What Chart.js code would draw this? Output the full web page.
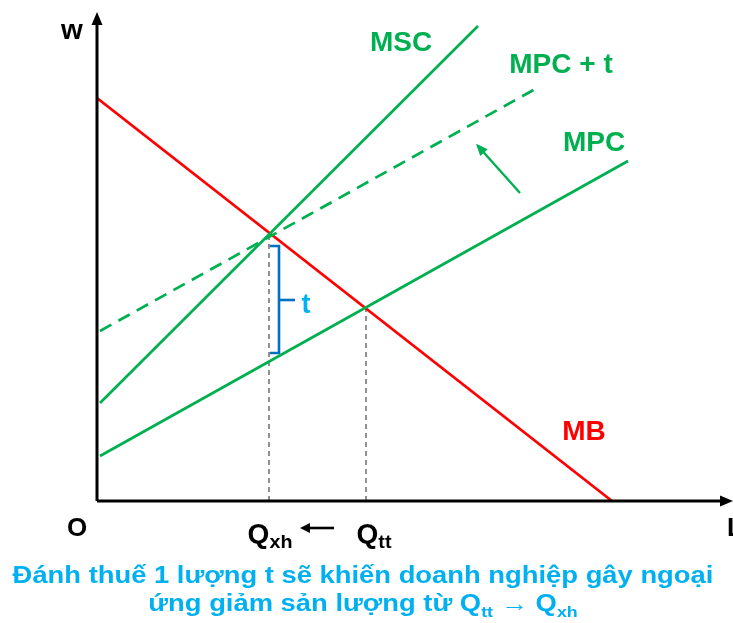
<!DOCTYPE html>
<html>
<head>
<meta charset="utf-8">
<script src="https://cdn.jsdelivr.net/npm/chart.js@4/dist/chart.umd.min.js"></script>
<style>
  html, body { margin: 0; padding: 0; background: #ffffff; }
  #wrap { width: 733px; height: 623px; position: relative; }
</style>
</head>
<body>
<div id="wrap"><canvas id="chart"></canvas></div>
<script>
// Quantity (L) and wage (w) in diagram units
const mbX = [0, 515];          // marginal benefit
const mbY = [403, 0];
const mpcX = [3, 531];         // marginal private cost
const mpcY = [45, 340];
const mpcTaxX = [3, 440];      // MPC shifted up by the tax t
const mpcTaxY = [170, 413];
const mscX = [3, 381];         // marginal social cost
const mscY = [98, 475];
const qLabels = ['Qxh', 'Qtt'];
const qX = [172, 269];         // social optimum and market quantity
const qY = [266, 194];         // heights of the two equilibria
const taxBracketX = [173, 182, 182, 173];
const taxBracketY = [255, 255, 148, 148];
const taxTickX = [182, 198];
const taxTickY = [201, 201];
const shiftArrowX = [423, 381]; // tail -> head
const shiftArrowY = [308, 355];

const GREEN = '#00b050';
const RED = '#ff0000';
const BLUE = '#0070c0';
const LIGHT_BLUE = '#00b0f0';
const FONT = '"Liberation Sans", Arial, sans-serif';

const pts = (xs, ys) => xs.map((x, i) => ({ x, y: ys[i] }));

const lineSet = (data, color, extra) => Object.assign({
  data, borderColor: color, backgroundColor: color, showLine: true,
  pointRadius: 0, borderWidth: 2.7, tension: 0, fill: false
}, extra || {});

const datasets = [
  lineSet(pts(mscX, mscY), GREEN),
  lineSet(pts(mpcTaxX, mpcTaxY), GREEN, { borderDash: [13, 8] }),
  lineSet(pts(mpcX, mpcY), GREEN),
  lineSet(pts(mbX, mbY), RED),
  lineSet(pts([qX[0], qX[0]], [0, qY[0]]), '#222222', { borderWidth: 1, borderDash: [5, 4] }),
  lineSet(pts([qX[1], qX[1]], [0, qY[1]]), '#222222', { borderWidth: 1, borderDash: [5, 4] }),
  lineSet(pts(taxBracketX, taxBracketY), BLUE, { borderWidth: 2.6 }),
  lineSet(pts(taxTickX, taxTickY), BLUE, { borderWidth: 2.6 }),
  lineSet(pts(shiftArrowX, shiftArrowY), GREEN, { borderWidth: 2.4 })
];

function arrowHead(ctx, x1, y1, x2, y2, len, half, color) {
  const a = Math.atan2(y2 - y1, x2 - x1);
  ctx.save();
  ctx.fillStyle = color;
  ctx.beginPath();
  ctx.moveTo(x2, y2);
  ctx.lineTo(x2 - len * Math.cos(a) + half * Math.sin(a), y2 - len * Math.sin(a) - half * Math.cos(a));
  ctx.lineTo(x2 - len * Math.cos(a) - half * Math.sin(a), y2 - len * Math.sin(a) + half * Math.cos(a));
  ctx.closePath();
  ctx.fill();
  ctx.restore();
}

// draws a sequence of text runs (with optional subscripts) centred on cx,
// optionally widened horizontally by sx
function drawRuns(ctx, runs, cx, baseline, color, sx) {
  ctx.save();
  ctx.fillStyle = color;
  ctx.textBaseline = 'alphabetic';
  ctx.textAlign = 'left';
  ctx.translate(cx, 0);
  ctx.scale(sx || 1, 1);
  let total = 0;
  runs.forEach(r => { ctx.font = 'bold ' + r.size + 'px ' + FONT; r.w = ctx.measureText(r.t).width; total += r.w; });
  let x = -total / 2;
  runs.forEach(r => {
    ctx.font = 'bold ' + r.size + 'px ' + FONT;
    ctx.fillText(r.t, x, baseline + (r.dy || 0));
    x += r.w;
  });
  ctx.restore();
}

const diagramPlugin = {
  id: 'diagram',
  afterDatasetsDraw(chart) {
    const ctx = chart.ctx;
    const xs = chart.scales.x, ys = chart.scales.y;
    const px = v => xs.getPixelForValue(v);
    const py = v => ys.getPixelForValue(v);

    // axes with arrow heads
    ctx.save();
    ctx.strokeStyle = '#000';
    ctx.lineWidth = 3;
    ctx.beginPath();
    ctx.moveTo(px(0), py(0));
    ctx.lineTo(px(0), py(480));
    ctx.moveTo(px(0), py(0));
    ctx.lineTo(px(628), py(0));
    ctx.stroke();
    ctx.restore();
    arrowHead(ctx, px(0), py(0), px(0), py(489), 13, 5.5, '#000');
    arrowHead(ctx, px(0), py(0), px(636), py(0), 13, 5.5, '#000');

    // arrow showing the upward shift of MPC
    arrowHead(ctx, px(shiftArrowX[0]), py(shiftArrowY[0]), px(shiftArrowX[1]) - 2, py(shiftArrowY[1]) - 2.3, 12, 5, GREEN);

    // curve labels
    ctx.save();
    ctx.textAlign = 'center';
    ctx.textBaseline = 'middle';
    ctx.font = 'bold 28px ' + FONT;
    ctx.fillStyle = GREEN;
    ctx.fillText('MSC', px(304), py(458));
    ctx.fillText('MPC + t', px(464), py(436));
    ctx.fillText('MPC', px(497), py(358));
    ctx.fillStyle = RED;
    ctx.fillText('MB', px(487), py(69));
    ctx.fillStyle = LIGHT_BLUE;
    ctx.font = 'bold 27px ' + FONT;
    ctx.fillText('t', px(209), py(195));
    ctx.fillStyle = '#000';
    ctx.font = 'bold 28px ' + FONT;
    ctx.fillText('w', px(-25), py(470));
    ctx.font = 'bold 26px ' + FONT;
    ctx.fillText('O', px(-20), py(-28));
    ctx.textAlign = 'left';
    ctx.fillText('L', px(630), py(-28));
    ctx.restore();

    // quantity labels under the axis
    const axisBase = py(0) + 42;
    drawRuns(ctx, [{ t: 'Q', size: 27 }, { t: 'xh', size: 19, dy: 5 }], px(qX[0]) + 1, axisBase, '#000', 1.04);
    drawRuns(ctx, [{ t: 'Q', size: 27 }, { t: 'tt', size: 19, dy: 5 }], px(qX[1]) + 8, axisBase, '#000', 1.04);
    ctx.save();
    ctx.strokeStyle = '#000';
    ctx.lineWidth = 2.6;
    ctx.beginPath();
    ctx.moveTo(px(237), py(0) + 27);
    ctx.lineTo(px(210), py(0) + 27);
    ctx.stroke();
    ctx.restore();
    arrowHead(ctx, px(237), py(0) + 27, px(203), py(0) + 27, 10, 5, '#000');

    // caption
    drawRuns(ctx, [{ t: 'Đánh thuế 1 lượng t sẽ khiến doanh nghiệp gây ngoại', size: 23 }], 363, 583, LIGHT_BLUE, 1.19);
    drawRuns(ctx, [
      { t: 'ứng giảm sản lượng từ ', size: 23 },
      { t: 'Q', size: 23 }, { t: 'tt', size: 15, dy: 6 },
      { t: ' → ', size: 23 },
      { t: 'Q', size: 23 }, { t: 'xh', size: 15, dy: 6 }
    ], 363, 611, LIGHT_BLUE, 1.19);
  }
};

new Chart(document.getElementById('chart'), {
  type: 'scatter',
  data: { datasets },
  options: {
    responsive: true,
    maintainAspectRatio: false,
    animation: false,
    layout: { padding: { left: 97, right: 0, top: 12, bottom: 122 } },
    plugins: { legend: { display: false }, tooltip: { enabled: false } },
    scales: {
      x: { type: 'linear', min: 0, max: 636, display: false },
      y: { type: 'linear', min: 0, max: 489, display: false }
    }
  },
  plugins: [diagramPlugin]
});
</script>
</body>
</html>
